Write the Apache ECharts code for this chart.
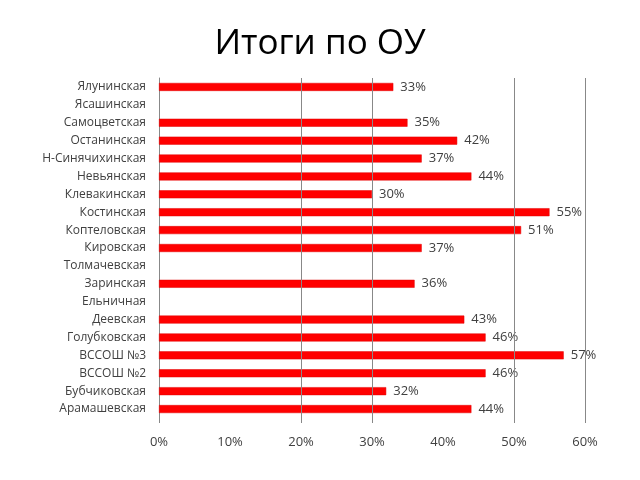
<!DOCTYPE html>
<html><head><meta charset="utf-8">
<script src="https://cdn.jsdelivr.net/npm/echarts@6/dist/echarts.min.js"></script>
<style>html,body{margin:0;padding:0;background:#fff}#c{width:640px;height:480px}</style>
</head><body><div id="c"></div>
<script>
const categories = ["Ялунинская","Ясашинская","Самоцветская","Останинская","Н-Синячихинская","Невьянская","Клевакинская","Костинская","Коптеловская","Кировская","Толмачевская","Заринская","Ельничная","Деевская","Голубковская","ВССОШ №3","ВССОШ №2","Бубчиковская","Арамашевская"];
const values = [33,null,35,42,37,44,30,55,51,37,null,36,null,43,46,57,46,32,44];
const gridValues = [20,30,50,60];
const tickLabels = [0,10,20,30,40,50,60];
const font = "'Open Sans', 'DejaVu Sans', sans-serif";
const chart = echarts.init(document.getElementById('c'));
chart.setOption({
  animation:false,
  title:{text:'Итоги по ОУ',left:'center',top:22,textStyle:{fontFamily:font,fontSize:35,fontWeight:'normal',color:'#000'}},
  grid:{left:159,right:55,top:78,bottom:62},
  xAxis:{type:'value',min:0,max:60,interval:10,
    axisLine:{show:false},splitLine:{show:false},
    axisTick:{show:true,customValues:[0,20,30,50,60],length:5,lineStyle:{color:'#888'}},
    axisLabel:{customValues:tickLabels,formatter:'{value}%',color:'#404040',fontFamily:font,fontSize:13,margin:18}},
  yAxis:{type:'category',data:categories,inverse:true,
    axisLine:{show:true,lineStyle:{color:'#888'}},axisTick:{show:false},
    axisLabel:{color:'#404040',fontFamily:font,fontSize:12,margin:13}},
  series:[{type:'bar',data:values,barWidth:8,
    itemStyle:{color:'#ff0000',borderColor:'#e00000',borderWidth:0.5},
    label:{show:true,position:'right',distance:7,formatter:p=>p.value+'%',color:'#404040',fontFamily:font,fontSize:13},
    markLine:{silent:true,symbol:'none',label:{show:false},lineStyle:{color:'#888',type:'solid',width:1},
      data:gridValues.map(v=>({xAxis:v}))},
    z:3}]
});
</script></body></html>
